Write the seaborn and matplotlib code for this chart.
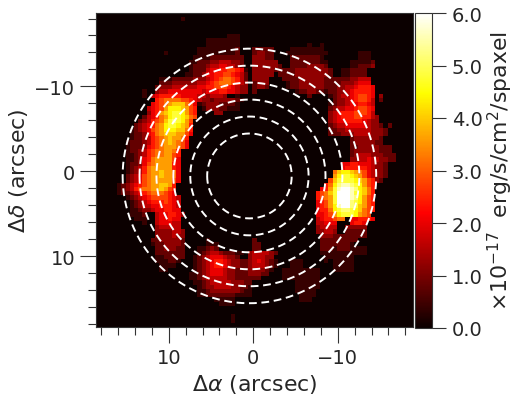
import matplotlib
matplotlib.use("Agg")
import matplotlib.pyplot as plt
import numpy as np
import pandas as pd
import seaborn as sns

# one string per spaxel row, top to bottom; each char is a flux level
flux_levels = ".123456789abcdef"
level_step = 0.4
flux_rows = [
    "..... ..... ..... ..... ..... ..... ..... ..... ..... ..... ..... ..... ..... ..... .....",
    "..... ..... ..... ..... 1.... ..... ..... ..... ..... ..... ..... ..... ..... ..... .....",
    "..... ..... ..... ..... ..... ..... ..... ..... ..... ..... ..... ..... ..... ..... .....",
    "..... ..... ..... ..... ..... ..... ..... ..... ..... ..... ..... ..... ..... ..... .....",
    "..... ..... ..... ..... ..... ..... ..... ..... ..... ..... ..... ..... ..... ..... .....",
    "..... ..... ..... ..... ..... ..... .111. ..... ..... ..... ..... ..... ..... ..... .....",
    "..... ..... ..... ..... ..... .1111 1111. ..... ..... ..... ..... ..... ..... ..... .....",
    "..... ..... ..... ..... ..... .1111 1111. ..... ..... ..... 1..1. ..... ..... ..... .....",
    "..... ..... ..... ..... ....1 11111 1112. ..222 22... .1111 1111. ..... ..... ..... .....",
    "..... ..... ..... .1... ....1 11111 1112. ..233 22... 11111 11111 ..... ..111 ..... .....",
    "..... ..... ..... ..... ...11 11222 22222 ..333 22... .2222 2221. ..... ..111 ..... .....",
    "..... ..... ..... ..... ..112 22334 44332 ..333 333.. .2222 22211 ..... 11111 2.... .....",
    "..... ..... ..... ..... ..122 23445 54432 ..333 3332. .2222 33332 ..... 11222 3.... .....",
    "..... ..... ..... ..... ..122 24556 67765 1.333 33222 22333 33333 2..11 2222. ..... .....",
    "..... ..... ..... ..... .1122 35566 77654 2.333 33.22 22333 33333 2..11 2222. ..... .....",
    "..... ..... ..... 11122 22233 34567 88764 2.333 3...2 22233 33332 22222 33444 ..... .....",
    "..... ..... ..... 22233 33334 45678 88764 3.233 3.... 12233 33332 22233 34555 ..... .....",
    "..... ..... ....2 33344 44445 56677 76543 3.233 2.... 12233 33332 22334 45666 5.... .....",
    "..... ..... .1..3 44555 55555 45556 65543 3.2.. ..... ..122 33221 22334 56666 5.... .....",
    "..... ..... .1.45 66666 55554 43444 3..1. ..... ..... ..... 2.... 12344 56776 5.3.. .....",
    "..... ..... ....6 78888 77654 33233 33321 ..... ..... ..... ..... .2334 56776 4.2.. .....",
    "..... ..... ...56 789aa a8751 23332 2221. ..... ..... ..... ..... 12334 55665 4.... .....",
    "..... ..... ..456 79bbb a976. 13332 2111. ..... ..... ..... ..... 23445 56776 5.... .....",
    "..... ..... ..356 9abcc b976. ...33 ..... ..... ..... ..... ..... 34566 67776 4.... .....",
    "..... ..... .2456 89bcc ba87. ..... ..... ..... ..... ..... ..... 34566 67766 43... .....",
    "..... ..... 23467 8acdc b97.. ..... ..... ..... ..... ..... ..... 34556 66654 33... .....",
    "..... ....2 34568 9bccb a96.. ..... ..... ..... ..... ..... ..... 23445 55554 332.2 .....",
    "..... ...12 34578 9bbba a86.. ..... ..... ..... ..... ..... ..... 22334 44444 3332. .....",
    "..... ...12 23568 9aaa9 975.. ..... ..... ..... ..... ..... ..... 22233 34444 3332. .....",
    "..... ...12 23467 89a99 86... ..... ..... ..... ..... ..... ..... ..... 23333 332.. .....",
    "..... ..122 23467 89a98 75... ..... ..... ..... ..... ..... ..... ..... 23333 322.. .....",
    "..... ..122 23567 89998 75... ..... ..... ..... ..... ..... ..... ..... 22333 33222 .....",
    "..... ..122 34678 89986 ..... ..... ..... ..... ..... ..... ..... ..... 23333 33222 .....",
    "..... ..112 34678 89976 ..... ..... ..... ..... ..... ..... ..... ..... 23444 33322 2....",
    "..... ..112 35689 99975 ..... ..... ..... ..... ..... ..... ..... ..... 33445 44332 2....",
    "..... ..122 35789 99965 ..... ..... ..... ..... ..... ..... ..... ...55 66555 4332. .....",
    "..... ..123 46899 99965 ..... ..... ..... ..... ..... ..... ..... ...56 66665 4332. .....",
    "..... ..123 46899 a9985 ..... ..... ..... ..... ..... ..... ..... .8abb a9875 4332. .....",
    "..... ..234 57899 a9985 ..... ..... ..... ..... ..... ..... ..... .9bcc ba975 4332. .....",
    "..... ..234 57899 99975 ..... ..... ..... ..... ..... ..... ..... 7accc cba97 632.. .....",
    "..... 12345 67899 aa96. ..... ..... ..... ..... ..... ..... ....6 8bdee dcb97 6.... .....",
    "..... 12346 78899 a976. ..... ..... ..... ..... ..... ..... ...56 9ceff edba8 6.... .....",
    "..... 12234 56788 8765. ..... ..... ..... ..... ..... ..... ..678 acfff ecba8 6.... .....",
    "..... ..123 45677 77654 ..... ..... ..... ..... ..... ..... ..678 9cfff edb97 6.... .....",
    "..... ...12 34566 67654 ..... ..... ..... ..... ..... ..... ..567 9cfff dcb97 6.... .....",
    "..... ...12 34455 66654 ..... ..... ..... ..... ..... ..... ..567 9beff dca97 6.... .....",
    "..... ...11 23345 56655 ..... ..... ..... ..... ..... ..... ..566 8bcdd cba87 6.... .....",
    "..... ...11 12..4 55665 3.... ..... ..... ..... ..... ..... ..556 79bcc cb987 ..... .....",
    "..... ....1 11..4 55655 ..... ..... ..... ..... ..... ..... ..456 6788. 55666 5.... .....",
    "..... ..... .1..4 55544 ..... ..... ..... ..... ..... ..... ..445 55... 5665. ..... .....",
    "..... ..... ....3 44444 ..... ..... ..... ..... ..... ..... ..344 44..3 3333. ..... .....",
    "..... ..... ....3 33344 3.... ..... ..... ..... ..... ..... ..334 43..2 2222. ..... .....",
    "..... ..... ....3 33343 3.... ..... ..... ..... ..... ..... ...33 32222 2222. ..... .....",
    "..... ..... ...22 33333 2.... .1... ..... ..2.. ..... ..... ...22 22222 22... ..... .....",
    "..... ..... ...12 23333 2.... .111. ..... ..22. ..... ..... ...22 22222 1.... ..... .....",
    "..... ..... ....2 23332 2...1 1232. ..... ..22. ..... ..... ...22 21222 1111. ..... .....",
    "..... ..... ....2 22222 2...1 23443 22211 .3444 432.. ..... ...11 11111 1111. ..... .....",
    "..... ..... ....1 12222 2..12 34555 4332. .3444 33... ..... ....1 11111 1.... ..... .....",
    "..... ..... ....1 11221 ...12 34566 54332 23454 321.. .111. ....1 .1111 1.... ..... .....",
    "..... ..... ..... 1111. ...12 34566 54332 23444 321.. .111. ..... .1111 1.... ..... .....",
    "..... ..... ..... 11... ...12 34555 43322 23333 21..1 11111 111.. .1111 1.... ..... .....",
    "..... ..... ..... ..... ..112 34555 43322 23332 2...1 11111 111.. ..... ..... ..... .....",
    "..... ..... ..... ..... ..112 34444 43322 2222. ....1 11111 111.. ..... ..... ..... .....",
    "..... ..... ..... ..... ...11 23444 44333 22... ..... ..111 111.. ..... ..... ..... .....",
    "..... ..... ..... ..... ....1 23344 44332 21... ..... ..111 111.. ..... ..... ..... .....",
    "..... ..... ..... ..... ....1 12333 33332 11... ..... ..111 11... ..... ..... ..... .....",
    "..... ..... ..... ..... ....1 12222 22211 11... ..... ...11 11... ..... ..... ..... .....",
    "..... ..... ..... ..... ..... ...11 111.. ..... ..... ...11 1.... ..... ..... ..... .....",
    "..... ..... ..... ..... ..... ....1 111.. ..... ..... ..... ..... ..... ..... ..... .....",
    "..... ..... ..... ..... ..... ..... ..... ..... ..... ..... ..... ..... ..... ..... .....",
    "..... ..... ..... ..... ..... ..... ..... ..... ..... ..... ..... ..... ..... ..... .....",
    "..... ..... ..... ..... ..... ..... ..1.. ..... ..... ..... ..... ..... ..... ..... .....",
    "..... ..... ..... ..... ..... ..... ..1.. ..... ..... ..... ..... ..... ..... ..... .....",
    "..... ..... ..... ..... ..... ..... ..... ..... ..... ..... ..... ..... ..... ..... .....",
]
circle_radii = [5, 7, 9, 11, 13, 15]
circle_center = (0.45, 0.55)
spaxel = 0.5
x_left = 18.6
y_top = -18.65
major_ticks = [-10, 0, 10]
minor_ticks = [-18, -16, -14, -12, -8, -6, -4, -2, 2, 4, 6, 8, 12, 14, 16, 18]
cbar_ticks = [0, 1, 2, 3, 4, 5, 6]

flux = np.array([[flux_levels.index(c) * level_step for c in row.replace(" ", "")]
                 for row in flux_rows])
flux_df = pd.DataFrame(flux)


def to_col(x):
    return (x_left - np.asarray(x, dtype=float)) / spaxel


def to_row(y):
    return (np.asarray(y, dtype=float) - y_top) / spaxel


sns.set_style("white")
fig = plt.figure(figsize=(5.22, 4.02), dpi=100)
ax = fig.add_axes([96 / 522, 1 - 328 / 402, 317 / 522, 314 / 402])
cax = fig.add_axes([415 / 522, 1 - 329 / 402, 16.5 / 522, 315 / 402])

sns.heatmap(flux_df, ax=ax, cbar_ax=cax, cmap="hot", vmin=0, vmax=6,
            xticklabels=False, yticklabels=False, rasterized=True)

theta = np.linspace(0, 2 * np.pi, 400)
for r in circle_radii:
    ax.plot(to_col(circle_center[0] + r * np.cos(theta)),
            to_row(circle_center[1] + r * np.sin(theta)),
            color="white", lw=1.4, linestyle=(0, (4, 2.4)))

ax.set_xticks(to_col(major_ticks))
ax.set_xticklabels(["\u221210", "0", "10"])
ax.set_xticks(to_col(minor_ticks), minor=True)
ax.set_yticks(to_row(major_ticks))
ax.set_yticklabels(["\u221210", "0", "10"])
ax.set_yticks(to_row(minor_ticks), minor=True)
ax.tick_params(which="major", length=11.5, width=0.8, pad=3.5, labelsize=14, color="#333333", bottom=True, left=True)
ax.tick_params(which="minor", length=5.5, width=0.8, color="#333333", bottom=True, left=True)
for s in ax.spines.values():
    s.set_visible(True)
    s.set_color("#333333")
    s.set_linewidth(0.8)
ax.set_xlabel(r"$\Delta\alpha$ (arcsec)", fontsize=15.8, labelpad=4)
ax.set_ylabel(r"$\Delta\delta$ (arcsec)", fontsize=15.8, labelpad=3)

cbar = ax.collections[0].colorbar
cbar.set_ticks(cbar_ticks)
cbar.set_ticklabels([f"{t:.1f}" for t in cbar_ticks])
cbar.ax.tick_params(length=10, width=0.8, pad=4.5, labelsize=14, color="#333333", right=True)
cbar.outline.set_visible(True)
cbar.outline.set_edgecolor("#333333")
cbar.outline.set_linewidth(0.8)
cbar.set_label(r"$\times 10^{-17}$  erg/s/cm$^2$/spaxel", fontsize=15.8, labelpad=2)

fig.savefig("out.png", dpi=100)
